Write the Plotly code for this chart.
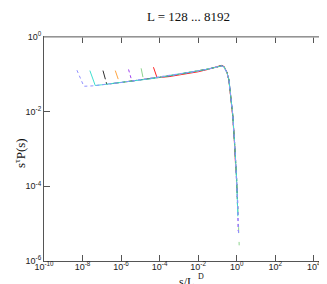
import plotly.graph_objects as go

# ---- data ----
labels = ["L=128", "L=256", "L=512", "L=1024", "L=2048", "L=4096", "L=8192"]

x_128 = [4.8e-5, 7.4e-5, 3.16e-4, 1e-3, 3.16e-3, 0.01, 0.0316, 0.1, 0.158, 0.224, 0.316, 0.398, 0.501, 0.631, 0.759, 0.891]
y_128 = [0.155, 0.081, 0.087, 0.0955, 0.105, 0.117, 0.135, 0.158, 0.174, 0.162, 0.112, 0.0676, 0.024, 0.00708, 0.00158, 3.16e-4]

x_256 = [1.1e-5, 1.45e-5, 3.16e-5, 1e-4, 3.16e-4, 1e-3, 3.16e-3, 0.01, 0.0316, 0.1, 0.158, 0.224, 0.316, 0.398, 0.501, 0.631, 0.794, 1.0, 1.12, 1.26, 1.35]
y_256 = [0.145, 0.0724, 0.0759, 0.0832, 0.0912, 0.1, 0.11, 0.123, 0.138, 0.158, 0.17, 0.158, 0.11, 0.0692, 0.0251, 0.00794, 0.00126, 1.58e-4, 3.98e-5, 7.94e-6, 2.63e-6]

x_512 = [2.45e-6, 3.63e-6, 1e-5, 3.16e-5, 1e-4, 3.16e-4, 1e-3, 3.16e-3, 0.01, 0.0316, 0.1, 0.158, 0.224, 0.316, 0.398, 0.501, 0.631, 0.794, 1.0, 1.12, 1.2]
y_512 = [0.135, 0.0661, 0.0708, 0.0759, 0.0832, 0.0912, 0.1, 0.11, 0.123, 0.138, 0.158, 0.168, 0.156, 0.108, 0.07, 0.0255, 0.0081, 0.0013, 1.6e-4, 4.0e-5, 6.31e-6]

x_1024 = [5.0e-7, 8.3e-7, 3.16e-6, 1e-5, 3.16e-5, 1e-4, 3.16e-4, 1e-3, 3.16e-3, 0.01, 0.0316, 0.1, 0.158, 0.224, 0.316, 0.398, 0.501, 0.631, 0.794, 1.0, 1.07]
y_1024 = [0.126, 0.0589, 0.0661, 0.0708, 0.0759, 0.0832, 0.0912, 0.1, 0.11, 0.123, 0.138, 0.157, 0.169, 0.157, 0.111, 0.0695, 0.0248, 0.0078, 0.00124, 1.55e-4, 5.0e-5]

x_2048 = [1.15e-7, 1.82e-7, 3.16e-7, 1e-6, 3.16e-6, 1e-5, 3.16e-5, 1e-4, 3.16e-4, 1e-3, 3.16e-3, 0.01, 0.0316, 0.1, 0.158, 0.224, 0.316, 0.398, 0.501, 0.631, 0.794, 1.0, 1.12]
y_2048 = [0.126, 0.0537, 0.0562, 0.0603, 0.0661, 0.0708, 0.0759, 0.0832, 0.0912, 0.1, 0.11, 0.123, 0.138, 0.158, 0.171, 0.159, 0.113, 0.0708, 0.0251, 0.00794, 0.00126, 1.58e-4, 2.5e-5]

x_4096 = [2.4e-8, 4.57e-8, 1e-7, 3.16e-7, 1e-6, 3.16e-6, 1e-5, 3.16e-5, 1e-4, 3.16e-4, 1e-3, 3.16e-3, 0.01, 0.0316, 0.1, 0.158, 0.224, 0.316, 0.398, 0.501, 0.631, 0.794, 1.0, 1.15]
y_4096 = [0.126, 0.0501, 0.0525, 0.0562, 0.0603, 0.0661, 0.0708, 0.0759, 0.0832, 0.0912, 0.1, 0.11, 0.123, 0.138, 0.158, 0.17, 0.158, 0.11, 0.0708, 0.0251, 0.00794, 0.00126, 1.58e-4, 1.58e-5]

x_8192 = [5.13e-9, 1.17e-8, 3.16e-8, 1e-7, 3.16e-7, 1e-6, 3.16e-6, 1e-5, 3.16e-5, 1e-4, 3.16e-4, 1e-3, 3.16e-3, 0.01, 0.0316, 0.1, 0.158, 0.224, 0.316, 0.398, 0.501, 0.631, 0.794, 1.0, 1.12, 1.26]
y_8192 = [0.129, 0.0479, 0.049, 0.0513, 0.0562, 0.0603, 0.0661, 0.0708, 0.0759, 0.0832, 0.0912, 0.1, 0.11, 0.123, 0.138, 0.158, 0.169, 0.157, 0.11, 0.07, 0.025, 0.0079, 0.00125, 1.57e-4, 4.0e-5, 5.0e-6]

xs = [x_128, x_256, x_512, x_1024, x_2048, x_4096, x_8192]
ys = [y_128, y_256, y_512, y_1024, y_2048, y_4096, y_8192]

colors = ["#ff2020", "#8fd48f", "#a040f0", "#ffa540", "#303030", "#40e0d0", "#9090ff"]
dashes = ["solid", "dash", "dot", "dash", "dashdot", "solid", "dot"]

x_tickvals = [1e-10, 1e-8, 1e-6, 1e-4, 1e-2, 1e0, 1e2, 1e4]
x_ticktext = ["10<sup>-10</sup>", "10<sup>-8</sup>", "10<sup>-6</sup>", "10<sup>-4</sup>",
              "10<sup>-2</sup>", "10<sup>0</sup>", "10<sup>2</sup>", "10<sup>4</sup>"]
y_tickvals = [1e-6, 1e-4, 1e-2, 1e0]
y_ticktext = ["10<sup>-6</sup>", "10<sup>-4</sup>", "10<sup>-2</sup>", "10<sup>0</sup>"]

title_text = "L = 128 ... 8192"
xlabel_base = "s/L"
xlabel_sup = "D"
ylabel = "s<sup>τ</sup>P(s)"

serif_family = "Liberation Serif, Times New Roman, serif"
serif = dict(family=serif_family, size=13, color="#111111")

fig = go.Figure()
for lab, x, y, c, d in zip(labels, xs, ys, colors, dashes):
    fig.add_trace(go.Scatter(x=x, y=y, mode="lines", name=lab,
                             line=dict(color=c, width=1, dash=d)))

axis_common = dict(
    type="log", showgrid=False, zeroline=False,
    showline=True, linecolor="#555555", linewidth=1, mirror="ticks",
    ticks="inside", ticklen=6, tickcolor="#555555", tickwidth=1,
    tickfont=dict(family="Liberation Sans, Arial, sans-serif", size=9, color="#222222"),
)

fig.update_layout(
    width=327, height=284,
    margin=dict(l=36, r=2, t=29, b=31),
    paper_bgcolor="white", plot_bgcolor="white",
    showlegend=False,
    xaxis=dict(range=[-10, 5], tickvals=x_tickvals, ticktext=x_ticktext,
               ticklabelstandoff=-3, **axis_common),
    yaxis=dict(range=[-6, 0], tickvals=y_tickvals, ticktext=y_ticktext, **axis_common),
    annotations=[
        dict(text=title_text, xref="paper", yref="paper", x=0.5, y=1, xanchor="center",
             yanchor="middle", yshift=21, showarrow=False, font=serif),
        dict(text=xlabel_base, xref="paper", yref="paper", x=0.494, y=0, xanchor="center",
             yanchor="middle", yshift=-20.5, showarrow=False,
             font=dict(family=serif_family, size=12, color="#111111")),
        dict(text=xlabel_sup, xref="paper", yref="paper", x=0.494, y=0, xanchor="left",
             yanchor="middle", xshift=9, yshift=-15.5, showarrow=False,
             font=dict(family=serif_family, size=8, color="#111111")),
        dict(text=ylabel, xref="paper", yref="paper", x=0, y=0.5, xanchor="center",
             yanchor="middle", xshift=-24, yshift=-4, textangle=-90, showarrow=False, font=serif),
    ],
    shapes=[
        dict(type="line", xref="paper", yref="paper", x0=0, x1=1, y0=1, y1=1,
             line=dict(color="#aaaaaa", width=1.5)),
        dict(type="line", xref="paper", yref="paper", x0=1, x1=1, y0=0, y1=1,
             line=dict(color="#aaaaaa", width=1.5)),
    ],
)

fig.write_html("out.html")
